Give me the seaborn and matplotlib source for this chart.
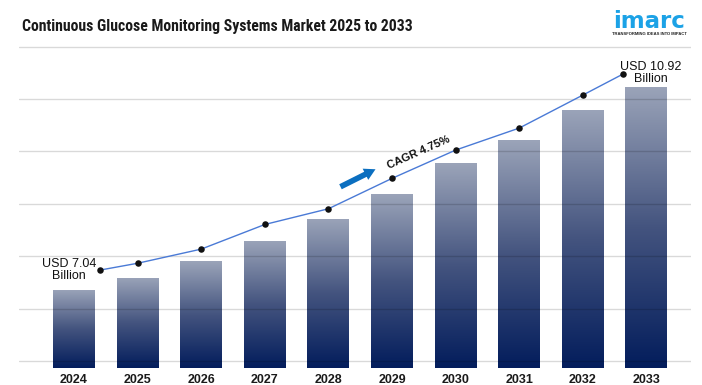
import numpy as np
import pandas as pd
import matplotlib
matplotlib.use("Agg")
import matplotlib.pyplot as plt
import seaborn as sns
from matplotlib import font_manager
from matplotlib.colors import LinearSegmentedColormap

# data
years = ["2024", "2025", "2026", "2027", "2028", "2029", "2030", "2031", "2032", "2033"]
market_value = [7.04, 7.27, 7.59, 7.98, 8.40, 8.87, 9.46, 9.90, 10.48, 10.92]  # USD billion
trend_value = [7.42, 7.55, 7.82, 8.29, 8.59, 9.17, 9.71, 10.13, 10.76, 11.16]
start_label = "USD 7.04\nBillion"
end_label = "USD 10.92\nBillion"
cagr_label = "CAGR 4.75%"
title = "Continuous Glucose Monitoring Systems Market 2025 to 2033"

df = pd.DataFrame({"year": years, "value": market_value})


def pick_font(names):
    for n in names:
        try:
            font_manager.findfont(n, fallback_to_default=False)
            return n
        except Exception:
            pass
    return "DejaVu Sans"


sns.set_theme(style="white")
plt.rcParams["font.family"] = ["Liberation Sans", "DejaVu Sans"]
title_font = pick_font(["Roboto Condensed", "Liberation Sans Narrow", "Roboto", "Liberation Sans"])

fig = plt.figure(figsize=(7.02, 3.85), dpi=100)
W, H = 702, 385
ax = fig.add_axes([19 / W, (H - 368) / H, (691 - 19) / W, (368 - 45.8) / H])

sns.barplot(data=df, x="year", y="value", ax=ax, width=0.66, color="#56688e",
            zorder=2, linewidth=0)

ymin, ymax = 5.551, 11.70
ax.set_ylim(ymin, ymax)
ax.set_xlim(-0.865, 9.70)

# gradient fill of bars (dark navy at the base, grey-blue at the top)
cmap = LinearSegmentedColormap.from_list("bar", ["#031d5c", "#44547f", "#9ba4b9"])
grad = np.linspace(0, 1, 256).reshape(-1, 1)
for p in ax.patches:
    x0, w, top = p.get_x(), p.get_width(), p.get_height()
    im = ax.imshow(grad, cmap=cmap, aspect="auto", origin="lower",
                   extent=[x0, x0 + w, ymin, top], zorder=2)
    im.set_clip_path(p)
    p.set_facecolor("none")

# gridlines, faintly visible over the bars too
for gy in np.arange(5.685, 11.7, 1.0):
    ax.axhline(gy, color="black", alpha=0.15, linewidth=1.0, zorder=2.5)
ax.set_yticks([])
ax.set_xlabel("")
ax.set_ylabel("")
for s in ax.spines.values():
    s.set_visible(False)
ax.tick_params(axis="x", length=0, pad=4)
for lbl in ax.get_xticklabels():
    lbl.set_fontweight("bold")
    lbl.set_fontsize(9)
    lbl.set_color("#1a1a1a")

# trend line, ends pulled in from bar centres
tx = np.arange(len(years), dtype=float)
tx[0] += 0.41
tx[-1] -= 0.37
ax.plot(tx, trend_value, color="#4a7ad6", linewidth=1.0, zorder=3)
ax.scatter(tx, trend_value, s=22, color="#111111", zorder=4, linewidths=0)

ax.annotate(start_label, xy=(tx[0], trend_value[0]), xytext=(-31, 0),
            textcoords="offset pixels", ha="center", va="center",
            fontsize=9, linespacing=1.05, color="#111111")
ax.annotate(end_label, xy=(tx[-1], trend_value[-1]), xytext=(28, 1),
            textcoords="offset pixels", ha="center", va="center",
            fontsize=9, linespacing=1.05, color="#111111")
ax.annotate(cagr_label, xy=(tx[4], trend_value[4]), xytext=(90, 56),
            textcoords="offset pixels", ha="center", va="center",
            fontsize=8, fontweight="bold", rotation=24, color="#111111")
ax.annotate("", xy=(378, H - 168), xytext=(338, H - 188), xycoords="figure pixels",
            textcoords="figure pixels",
            arrowprops=dict(arrowstyle="simple,head_length=0.9,head_width=1.0,tail_width=0.45",
                            mutation_scale=9, color="#0b6fc0", linewidth=0))

# title, shrunk to the reference width
t = fig.text(22 / W, (H - 27) / H, title, fontsize=13, fontweight="bold",
             family=title_font, color="#1a1a1a", ha="left", va="center")
fig.canvas.draw()
tw = t.get_window_extent().width
if tw > 392:
    t.set_fontsize(13 * 392 / tw)

# logo
fig.text(649 / W, (H - 28) / H, "imarc", fontsize=16.5, fontweight="bold",
         family="DejaVu Sans", color="#1ca2e6", ha="center", va="baseline")
fig.text(649 / W, (H - 34) / H, "TRANSFORMING IDEAS INTO IMPACT", fontsize=3.0,
         fontweight="bold", color="#222222", ha="center", va="center")

fig.savefig("out.png", dpi=100)
